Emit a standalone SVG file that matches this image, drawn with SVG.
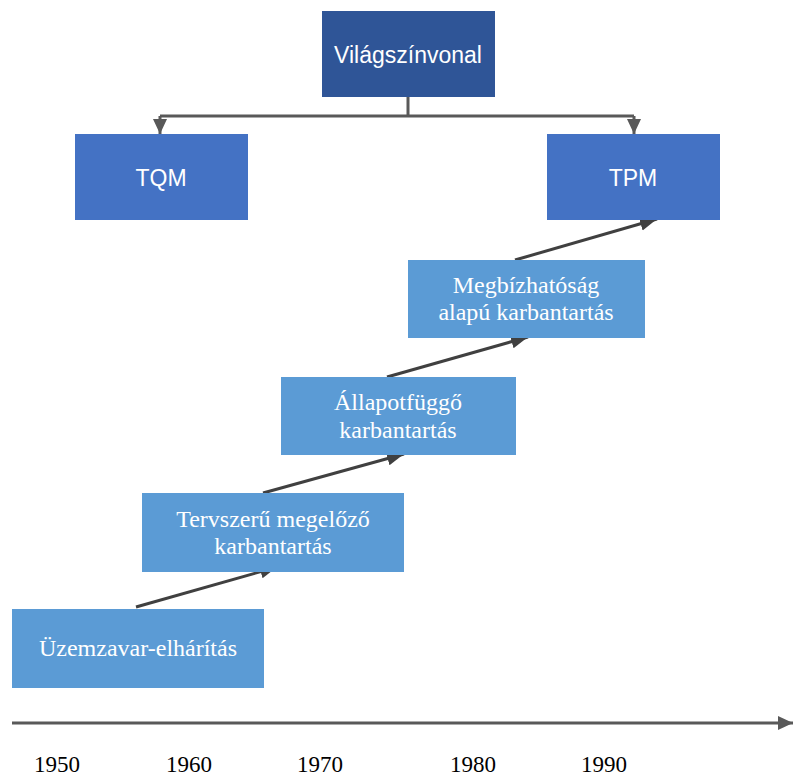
<svg xmlns="http://www.w3.org/2000/svg" width="793" height="778" viewBox="0 0 793 778">
<style>
.dark{fill:#2F5597}
.mid{fill:#4472C4}
.light{fill:#5B9BD5}
.sans{font-family:"Liberation Sans",Arial,sans-serif;font-size:23px;fill:#fff;text-anchor:middle}
.serif{font-family:"Liberation Serif","Times New Roman",serif;font-size:24px;fill:#fff;text-anchor:middle}
.year{font-family:"Liberation Serif","Times New Roman",serif;font-size:23px;fill:#000;text-anchor:middle}
.gline{fill:none;stroke:#595959;stroke-width:3}
.aline{fill:none;stroke:#404040;stroke-width:3}
</style>
<defs>
<marker id="mg" markerUnits="userSpaceOnUse" markerWidth="16" markerHeight="16" refX="15" refY="8" orient="auto">
<path d="M0,1 L15,8 L0,15 Z" fill="#595959"/>
</marker>
<marker id="ma" markerUnits="userSpaceOnUse" markerWidth="18" markerHeight="16" refX="17" refY="8" orient="auto">
<path d="M0,1 L17,8 L0,15 Z" fill="#404040"/>
</marker>
</defs>
<rect width="793" height="778" fill="#fff"/>
<g id="connectors">
<path class="gline" d="M408,97 V116"/>
<path class="gline" d="M160,116 H634"/>
<path class="gline" d="M160,116 V134" marker-end="url(#mg)"/>
<path class="gline" d="M634,116 V134" marker-end="url(#mg)"/>
<path class="aline" d="M136,607 L277,567" marker-end="url(#ma)"/>
<path class="aline" d="M263,493 L404,454" marker-end="url(#ma)"/>
<path class="aline" d="M387,377 L528,337" marker-end="url(#ma)"/>
<path class="aline" d="M515,260 L657,219" marker-end="url(#ma)"/>
<path class="gline" d="M12,723 H793" marker-end="url(#mg)"/>
</g>
<g id="vilag">
<rect class="dark" x="322" y="11" width="173" height="86"/>
<text class="sans" x="408" y="63">Világszínvonal</text>
</g>
<g id="tqm">
<rect class="mid" x="75" y="134" width="173" height="86"/>
<text class="sans" x="161" y="186">TQM</text>
</g>
<g id="tpm">
<rect class="mid" x="547" y="134" width="173" height="86"/>
<text class="sans" x="633" y="186">TPM</text>
</g>
<g id="megbizhatosag">
<rect class="light" x="408" y="260" width="237" height="78"/>
<text class="serif" x="526" y="293">Megbízhatóság</text>
<text class="serif" x="526" y="320">alapú karbantartás</text>
</g>
<g id="allapot">
<rect class="light" x="281" y="377" width="235" height="78"/>
<text class="serif" x="398" y="410">Állapotfüggő</text>
<text class="serif" x="398" y="438">karbantartás</text>
</g>
<g id="tervszeru">
<rect class="light" x="142" y="493" width="262" height="79"/>
<text class="serif" x="273" y="527">Tervszerű megelőző</text>
<text class="serif" x="273" y="554">karbantartás</text>
</g>
<g id="uzemzavar">
<rect class="light" x="12" y="609" width="252" height="79"/>
<text class="serif" x="138" y="656">Üzemzavar-elhárítás</text>
</g>
<g id="years">
<text class="year" x="57" y="772">1950</text>
<text class="year" x="189" y="772">1960</text>
<text class="year" x="320" y="772">1970</text>
<text class="year" x="473" y="772">1980</text>
<text class="year" x="604" y="772">1990</text>
</g>
</svg>
